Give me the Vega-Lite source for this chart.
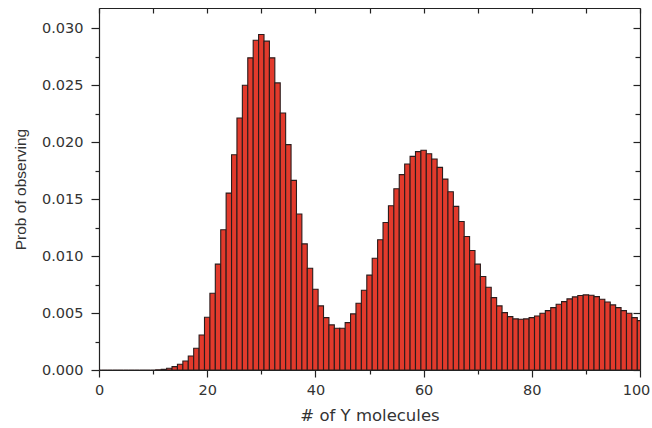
{
  "$schema": "https://vega.github.io/schema/vega-lite/v6.json",
  "width": 541,
  "height": 362,
  "autosize": {"type": "none"},
  "padding": {"left": 99, "top": 8, "right": 12, "bottom": 58},
  "background": "white",
  "config": {
    "view": {"stroke": null},
    "axis": {
      "domainColor": "#222222",
      "domainWidth": 1.2,
      "tickColor": "#222222",
      "tickWidth": 1.2,
      "grid": false,
      "labelFont": "DejaVu Sans",
      "labelFontSize": 14.5,
      "labelColor": "#333333",
      "titleFont": "DejaVu Sans",
      "titleFontWeight": "normal",
      "titleColor": "#333333"
    }
  },
  "data": {"values": [
    {"n":0,"p":0},{"n":1,"p":0},{"n":2,"p":0},{"n":3,"p":0},{"n":4,"p":0},{"n":5,"p":0},{"n":6,"p":0},{"n":7,"p":0},{"n":8,"p":0},{"n":9,"p":0},{"n":10,"p":0},
    {"n":11,"p":0.00002},{"n":12,"p":0.00006},{"n":13,"p":0.00015},{"n":14,"p":0.0003},{"n":15,"p":0.0005},
    {"n":16,"p":0.00079},{"n":17,"p":0.00123},{"n":18,"p":0.00191},{"n":19,"p":0.00308},{"n":20,"p":0.00463},
    {"n":21,"p":0.00674},{"n":22,"p":0.0093},{"n":23,"p":0.01232},{"n":24,"p":0.01554},{"n":25,"p":0.01891},
    {"n":26,"p":0.02214},{"n":27,"p":0.02501},{"n":28,"p":0.02742},{"n":29,"p":0.02897},{"n":30,"p":0.02947},
    {"n":31,"p":0.02889},{"n":32,"p":0.02742},{"n":33,"p":0.02522},{"n":34,"p":0.02258},{"n":35,"p":0.0198},
    {"n":36,"p":0.01666},{"n":37,"p":0.0137},{"n":38,"p":0.01108},{"n":39,"p":0.00894},{"n":40,"p":0.0071},
    {"n":41,"p":0.00563},{"n":42,"p":0.0046},{"n":43,"p":0.00396},{"n":44,"p":0.00367},{"n":45,"p":0.00367},
    {"n":46,"p":0.00416},{"n":47,"p":0.00493},{"n":48,"p":0.00587},{"n":49,"p":0.00701},{"n":50,"p":0.00833},
    {"n":51,"p":0.00982},{"n":52,"p":0.01144},{"n":53,"p":0.01296},{"n":54,"p":0.01443},{"n":55,"p":0.01592},
    {"n":56,"p":0.01716},{"n":57,"p":0.01809},{"n":58,"p":0.01877},{"n":59,"p":0.01918},{"n":60,"p":0.0193},
    {"n":61,"p":0.019},{"n":62,"p":0.01853},{"n":63,"p":0.0178},{"n":64,"p":0.01677},{"n":65,"p":0.01566},
    {"n":66,"p":0.01437},{"n":67,"p":0.01305},{"n":68,"p":0.01173},{"n":69,"p":0.0105},{"n":70,"p":0.0093},
    {"n":71,"p":0.00821},{"n":72,"p":0.00727},{"n":73,"p":0.00636},{"n":74,"p":0.00563},{"n":75,"p":0.00504},
    {"n":76,"p":0.00469},{"n":77,"p":0.00449},{"n":78,"p":0.00446},{"n":79,"p":0.00449},{"n":80,"p":0.0046},
    {"n":81,"p":0.00475},{"n":82,"p":0.00499},{"n":83,"p":0.00522},{"n":84,"p":0.00548},{"n":85,"p":0.00578},
    {"n":86,"p":0.00601},{"n":87,"p":0.00625},{"n":88,"p":0.00642},{"n":89,"p":0.00654},{"n":90,"p":0.0066},
    {"n":91,"p":0.00657},{"n":92,"p":0.00645},{"n":93,"p":0.00622},{"n":94,"p":0.00598},{"n":95,"p":0.00572},
    {"n":96,"p":0.00548},{"n":97,"p":0.00522},{"n":98,"p":0.00499},{"n":99,"p":0.0046},{"n":100,"p":0.00434}
  ]},
  "layer": [
    {
      "mark": {"type": "bar", "width": 5.41, "fill": "#e23a2c", "stroke": "#2a1c1c", "strokeWidth": 1.1, "clip": true},
      "encoding": {
        "x": {
          "field": "n", "type": "quantitative",
          "scale": {"domain": [0, 100], "nice": false, "zero": false, "padding": 0},
          "axis": {
            "orient": "bottom",
            "title": "# of Y molecules",
            "titleFontSize": 16.5,
            "titlePadding": 11,
            "values": [0,10,20,30,40,50,60,70,80,90,100],
            "labelExpr": "datum.value % 20 == 0 ? datum.label : ''",
            "tickSize": {"condition": {"test": "datum.value % 20 == 0", "value": 7}, "value": 4},
            "labelOffset": {"condition": {"test": "datum.value == 100", "value": -4}, "value": 0},
            "labelPadding": 6,
            "labelFlush": false,
            "labelOverlap": false
          }
        },
        "y": {
          "field": "p", "type": "quantitative",
          "scale": {"domain": [0, 0.0318], "nice": false, "padding": 0},
          "axis": {
            "orient": "left",
            "title": "Prob of observing",
            "titleFont": "Liberation Sans",
            "titleFontSize": 15.5,
            "titlePadding": 13,
            "values": [0,0.0025,0.005,0.0075,0.01,0.0125,0.015,0.0175,0.02,0.0225,0.025,0.0275,0.03],
            "labelExpr": "round(datum.value*400) % 2 == 0 ? format(datum.value, '.3f') : ''",
            "tickSize": {"condition": {"test": "round(datum.value*400) % 2 == 0", "value": 8}, "value": 4},
            "labelPadding": 8
          }
        }
      }
    },
    {
      "mark": {"type": "bar", "width": 5.41, "opacity": 0},
      "encoding": {
        "x": {
          "field": "n", "type": "quantitative",
          "axis": {
            "orient": "top", "title": null, "labels": false,
            "values": [0,10,20,30,40,50,60,70,80,90,100],
            "tickSize": -5
          }
        },
        "y": {
          "field": "p", "type": "quantitative",
          "axis": {
            "orient": "right", "title": null, "labels": false,
            "values": [0,0.0025,0.005,0.0075,0.01,0.0125,0.015,0.0175,0.02,0.0225,0.025,0.0275,0.03],
            "tickSize": {"condition": {"test": "round(datum.value*400) % 2 == 0", "value": -7}, "value": -5}
          }
        }
      }
    }
  ],
  "resolve": {"axis": {"x": "independent", "y": "independent"}}
}
